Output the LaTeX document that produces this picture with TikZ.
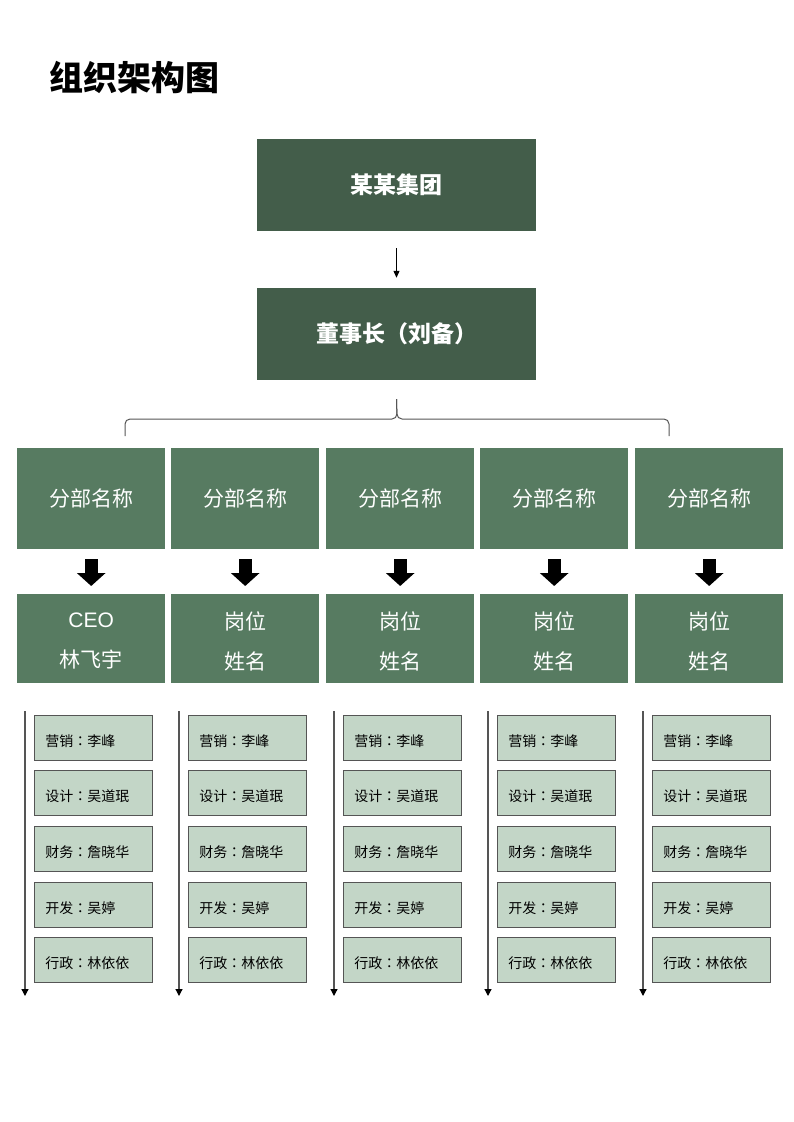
\documentclass[tikz,border=0pt]{standalone}
\usepackage{fontspec}
\setmainfont{Noto Sans CJK SC}
\newfontfamily\latinfont{Liberation Sans}
\newfontfamily\tcfont{Noto Sans CJK TC}
\newcommand\colonc{{\tcfont ：}}
\newcommand\smtext[1]{\raisebox{-3.5pt}[\height][\depth]{#1}}
\newcommand\pstext[1]{\raisebox{-2.5pt}[\height][\depth]{#1}}
\usetikzlibrary{arrows.meta,positioning,calc}
\definecolor{darkg}{HTML}{435D4A}
\definecolor{midg}{HTML}{577B61}
\definecolor{lightg}{HTML}{C3D6C7}
\definecolor{linegray}{HTML}{555555}
\tikzset{
  topbox/.style={rectangle, fill=darkg, minimum width=279pt, minimum height=92pt, inner sep=0pt,
    text=white, font=\fontsize{23}{28}\selectfont\bfseries},
  divbox/.style={rectangle, fill=midg, minimum width=148pt, minimum height=101pt, inner sep=0pt,
    text=white, font=\fontsize{21}{26}\selectfont},
  posbox/.style={rectangle, fill=midg, minimum width=148pt, minimum height=89pt, inner sep=0pt,
    text=white, align=center, font=\fontsize{21}{40}\selectfont},
  smallbox/.style={rectangle, fill=lightg, draw=linegray, line width=0.8pt, minimum height=45pt,
    text width=96pt, inner xsep=11pt, inner ysep=0pt, align=left, font=\fontsize{14}{16}\selectfont},
  thinarrow/.style={draw=black, line width=1pt, -{Triangle[width=6pt,length=7pt]}},
  fatarrow/.style={draw=black, line width=13pt, -{Triangle[width=28pt,length=13pt]}},
  colarrow/.style={draw=linegray, line width=1.2pt, -{Triangle[width=7pt,length=7pt,color=black]}},
  bracel/.style={draw=linegray, line width=1pt, rounded corners=5pt}
}
\begin{document}
\begin{tikzpicture}[x=1pt,y=-1pt]
\useasboundingbox (0,0) rectangle (793,1122);
\node[anchor=west, font=\fontsize{34}{40}\selectfont\bfseries] (title) at (46,78) {组织架构图};
\node[topbox] (group) at (396.5,185) {某某集团};
\node[topbox] (chair) at (396.5,334) {董事长（刘备）};
\draw[thinarrow, shorten <=17pt, shorten >=10pt] (group.south) -- (chair.north);
% brace
\coordinate (bt) at ($(chair.south)+(0,19)$);
\coordinate (bm) at (397,419);
\coordinate (bl) at (125,436);
\coordinate (br) at (669,436);
\draw[bracel] (bl) |- (bm) -- (bt);
\draw[bracel] (br) |- (bm) -- (bt);
% columns
\foreach \i/\x/\ta/\tb in {1/17/{\latinfont CEO}/林飞宇, 2/171/岗位/姓名, 3/326/岗位/姓名, 4/480/岗位/姓名, 5/635/岗位/姓名}{
  \node[divbox, anchor=north west] (d\i) at (\x,448) {分部名称};
  \node[posbox, anchor=north west] (p\i) at (\x,594) {\pstext{\ta}\\\pstext{\tb}};
  \draw[fatarrow, shorten <=10pt, shorten >=8pt] (d\i.south) -- (p\i.north);
  \node[smallbox, anchor=north west] (s\i a) at (\x+17,715) {\smtext{营销\colonc 李峰}};
  \node[smallbox, anchor=north west] (s\i b) at (\x+17,770) {\smtext{设计\colonc 吴道珉}};
  \node[smallbox, anchor=north west] (s\i c) at (\x+17,826) {\smtext{财务\colonc 詹晓华}};
  \node[smallbox, anchor=north west] (s\i d) at (\x+17,882) {\smtext{开发\colonc 吴婷}};
  \node[smallbox, anchor=north west] (s\i e) at (\x+17,937) {\smtext{行政\colonc 林依依}};
  \coordinate (v\i t) at (\x+8,711);
  \coordinate (v\i b) at (\x+8,996);
  \draw[colarrow] (v\i t) -- (v\i b);
}
\end{tikzpicture}
\end{document}
